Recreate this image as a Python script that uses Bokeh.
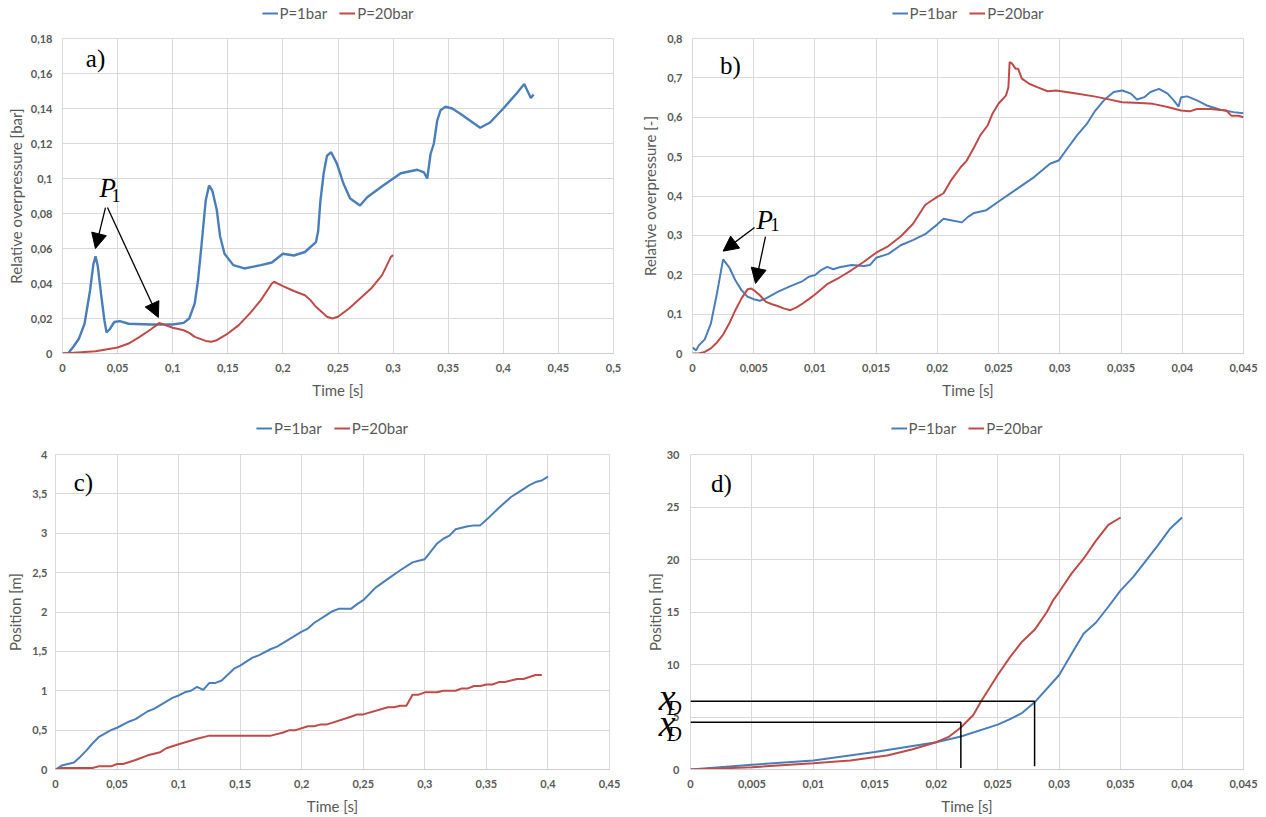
from bokeh.plotting import figure
from bokeh.models import (Range1d, FixedTicker, CustomJSTickFormatter, Legend, LegendItem,
                          Label, Arrow, NormalHead, LinearAxis)
from bokeh.layouts import row, column
from bokeh.embed import file_html
from bokeh.resources import INLINE

BLUE = "#4A7EBB"
RED = "#BE4B48"
GRID = "#d9d9d9"
TXT = "#595959"
SERIES = ["P=1bar", "P=20bar"]

# ---------------- panel a: overpressure [bar] vs time, long duct ----------------
A_T1 = [0, 0.005, 0.01, 0.015, 0.02, 0.025, 0.028, 0.03, 0.032, 0.035,
        0.038, 0.04, 0.043, 0.047, 0.052, 0.06, 0.08, 0.1, 0.11, 0.115,
        0.12, 0.123, 0.126, 0.13, 0.133, 0.136, 0.14, 0.143, 0.147, 0.155,
        0.165, 0.18, 0.19, 0.2, 0.21, 0.22, 0.23, 0.232, 0.234, 0.237,
        0.24, 0.2438, 0.249, 0.255, 0.261, 0.27, 0.2765, 0.291, 0.307, 0.322,
        0.328, 0.331, 0.334, 0.337, 0.34, 0.343, 0.3475, 0.3536, 0.361, 0.37,
        0.379, 0.388, 0.4, 0.4126, 0.419, 0.425, 0.4275]
A_P1 = [0, 0, 0.004, 0.0086, 0.017, 0.036, 0.051, 0.0556, 0.050, 0.034,
        0.019, 0.012, 0.014, 0.018, 0.0185, 0.017, 0.0166, 0.0166, 0.0175, 0.02,
        0.0286, 0.042, 0.061, 0.0876, 0.096, 0.093, 0.082, 0.067, 0.057, 0.0505,
        0.0486, 0.0505, 0.052, 0.057, 0.056, 0.058, 0.0636, 0.07, 0.087, 0.103,
        0.113, 0.115, 0.1085, 0.097, 0.0886, 0.0846, 0.0893, 0.096, 0.103, 0.105,
        0.1035, 0.100, 0.114, 0.12, 0.133, 0.139, 0.141, 0.140, 0.137, 0.133,
        0.129, 0.132, 0.140, 0.149, 0.154, 0.146, 0.148]
A_T20 = [0, 0.03, 0.05, 0.06, 0.07, 0.08, 0.088, 0.095, 0.1, 0.11,
         0.115, 0.12, 0.13, 0.135, 0.14, 0.15, 0.16, 0.17, 0.18, 0.19,
         0.192, 0.2, 0.21, 0.22, 0.225, 0.23, 0.24, 0.245, 0.25, 0.26,
         0.27, 0.28, 0.29, 0.298, 0.3]
A_P20 = [0, 0.0013, 0.0034, 0.0057, 0.0095, 0.0137, 0.0175, 0.0158, 0.0147, 0.0133,
         0.0118, 0.0095, 0.0072, 0.0067, 0.0076, 0.0114, 0.0162, 0.0229, 0.0305, 0.04,
         0.041, 0.0385, 0.0357, 0.0333, 0.0305, 0.0267, 0.021, 0.02, 0.021, 0.0257,
         0.0314, 0.0371, 0.0448, 0.0552, 0.0562]
A_XTICKS = [0, 0.05, 0.1, 0.15, 0.2, 0.25, 0.3, 0.35, 0.4, 0.45, 0.5]
A_YTICKS = [0, 0.02, 0.04, 0.06, 0.08, 0.1, 0.12, 0.14, 0.16, 0.18]

# ---------------- panel b: relative overpressure [-] ----------------
B_T1 = [0, 0.0003, 0.0005, 0.001, 0.0015, 0.002, 0.0025, 0.003, 0.0035, 0.004,
        0.0045, 0.005, 0.0055, 0.006, 0.007, 0.008, 0.009, 0.0095, 0.01, 0.0105,
        0.011, 0.0115, 0.012, 0.013, 0.014, 0.0145, 0.015, 0.016, 0.017, 0.018,
        0.019, 0.02, 0.0205, 0.021, 0.022, 0.0225, 0.023, 0.024, 0.025, 0.0265,
        0.0279, 0.0292, 0.0299, 0.0306, 0.0314, 0.0322, 0.0329, 0.0336, 0.0344, 0.0351,
        0.0358, 0.0363, 0.0369, 0.0374, 0.0381, 0.0388, 0.0393, 0.0397, 0.0399, 0.0404,
        0.0412, 0.042, 0.0431, 0.0442, 0.045]
B_P1 = [0.015, 0.008, 0.02, 0.036, 0.076, 0.153, 0.239, 0.219, 0.186, 0.161,
        0.144, 0.138, 0.134, 0.14, 0.157, 0.171, 0.184, 0.195, 0.199, 0.212,
        0.22, 0.214, 0.219, 0.225, 0.222, 0.225, 0.243, 0.253, 0.275, 0.288,
        0.303, 0.328, 0.342, 0.339, 0.333, 0.347, 0.357, 0.364, 0.386, 0.418,
        0.448, 0.482, 0.49, 0.52, 0.554, 0.583, 0.617, 0.643, 0.664, 0.668,
        0.66, 0.645, 0.651, 0.664, 0.672, 0.66, 0.643, 0.627, 0.651, 0.653,
        0.643, 0.63, 0.619, 0.613, 0.61]
B_T20 = [0, 0.0005, 0.001, 0.0015, 0.002, 0.0025, 0.003, 0.0035, 0.004, 0.0045,
         0.0048, 0.005, 0.0055, 0.006, 0.0065, 0.007, 0.0075, 0.008, 0.0085, 0.009,
         0.0095, 0.01, 0.011, 0.012, 0.013, 0.014, 0.015, 0.016, 0.017, 0.018,
         0.019, 0.0195, 0.02, 0.0205, 0.0211, 0.0219, 0.0224, 0.023, 0.0235, 0.0241,
         0.0245, 0.025, 0.0256, 0.0258, 0.0259, 0.0261, 0.0264, 0.0266, 0.0269, 0.0275,
         0.0282, 0.029, 0.0297, 0.0312, 0.0328, 0.0339, 0.0351, 0.0366, 0.0376, 0.0388,
         0.0399, 0.0406, 0.0412, 0.0423, 0.0436, 0.044, 0.0446, 0.045]
B_P20 = [0, 0, 0.004, 0.013, 0.028, 0.048, 0.076, 0.11, 0.14, 0.163,
         0.165, 0.161, 0.148, 0.131, 0.125, 0.12, 0.114, 0.11, 0.117, 0.127,
         0.138, 0.15, 0.176, 0.193, 0.212, 0.233, 0.256, 0.273, 0.297, 0.329,
         0.377, 0.388, 0.398, 0.407, 0.439, 0.473, 0.49, 0.524, 0.554, 0.579,
         0.609, 0.635, 0.655, 0.676, 0.74, 0.736, 0.723, 0.723, 0.698, 0.685,
         0.676, 0.666, 0.668, 0.661, 0.653, 0.646, 0.638, 0.636, 0.634, 0.626,
         0.617, 0.615, 0.621, 0.621, 0.617, 0.604, 0.604, 0.6]
B_XTICKS = [0, 0.005, 0.01, 0.015, 0.02, 0.025, 0.03, 0.035, 0.04, 0.045]
B_YTICKS = [0, 0.1, 0.2, 0.3, 0.4, 0.5, 0.6, 0.7, 0.8]

# ---------------- panel c: flame position, long duct ----------------
C_T1 = [0, 0.005, 0.015, 0.02, 0.025, 0.03, 0.035, 0.045, 0.05, 0.06,
        0.065, 0.075, 0.08, 0.095, 0.1, 0.105, 0.11, 0.115, 0.12, 0.125,
        0.13, 0.135, 0.145, 0.15, 0.16, 0.165, 0.175, 0.18, 0.2, 0.205,
        0.21, 0.22, 0.225, 0.23, 0.24, 0.245, 0.25, 0.26, 0.27, 0.28,
        0.29, 0.295, 0.3, 0.31, 0.315, 0.32, 0.325, 0.335, 0.34, 0.345,
        0.35, 0.36, 0.37, 0.375, 0.385, 0.39, 0.395, 0.4]
C_X1 = [0, 0.05, 0.09, 0.16, 0.24, 0.33, 0.41, 0.5, 0.53, 0.61,
        0.64, 0.74, 0.77, 0.91, 0.94, 0.98, 1.0, 1.05, 1.01, 1.1,
        1.1, 1.13, 1.28, 1.32, 1.42, 1.45, 1.53, 1.56, 1.75, 1.79,
        1.86, 1.96, 2.01, 2.04, 2.04, 2.1, 2.15, 2.31, 2.42, 2.53,
        2.63, 2.65, 2.67, 2.87, 2.93, 2.97, 3.05, 3.09, 3.1, 3.1,
        3.17, 3.32, 3.46, 3.51, 3.61, 3.65, 3.67, 3.72]
C_T20 = [0, 0.005, 0.03, 0.035, 0.045, 0.05, 0.055, 0.065, 0.075, 0.085,
         0.09, 0.1, 0.115, 0.125, 0.175, 0.185, 0.19, 0.195, 0.205, 0.21,
         0.215, 0.22, 0.24, 0.245, 0.25, 0.27, 0.275, 0.28, 0.285, 0.29,
         0.295, 0.3, 0.31, 0.315, 0.325, 0.33, 0.335, 0.34, 0.345, 0.35,
         0.355, 0.36, 0.365, 0.375, 0.38, 0.39, 0.395]
C_X20 = [0, 0.02, 0.02, 0.04, 0.04, 0.07, 0.07, 0.12, 0.18, 0.22,
         0.27, 0.32, 0.39, 0.43, 0.43, 0.47, 0.5, 0.5, 0.55, 0.55,
         0.57, 0.57, 0.67, 0.7, 0.7, 0.79, 0.79, 0.81, 0.81, 0.95,
         0.95, 0.98, 0.98, 1.0, 1.0, 1.03, 1.03, 1.06, 1.06, 1.08,
         1.08, 1.11, 1.11, 1.15, 1.15, 1.2, 1.2]
C_XTICKS = [0, 0.05, 0.1, 0.15, 0.2, 0.25, 0.3, 0.35, 0.4, 0.45]
C_YTICKS = [0, 0.5, 1, 1.5, 2, 2.5, 3, 3.5, 4]

# ---------------- panel d: flame position, short duct ----------------
D_T1 = [0, 0.005, 0.01, 0.015, 0.02, 0.022, 0.025, 0.026, 0.027, 0.028,
        0.03, 0.031, 0.032, 0.033, 0.034, 0.035, 0.036, 0.037, 0.038, 0.039, 0.04]
D_X1 = [0, 0.45, 0.86, 1.66, 2.6, 3.15, 4.27, 4.8, 5.4, 6.4,
        9.0, 11.0, 12.96, 14.0, 15.5, 17.06, 18.3, 19.8, 21.3, 22.9, 24.0]
D_T20 = [0, 0.005, 0.01, 0.013, 0.016, 0.018, 0.02, 0.021, 0.022, 0.023,
         0.0237, 0.025, 0.026, 0.027, 0.028, 0.029, 0.0295, 0.03, 0.031, 0.032,
         0.033, 0.034, 0.035]
D_X20 = [0, 0.22, 0.6, 0.86, 1.34, 1.9, 2.6, 3.1, 4.0, 5.16,
         6.6, 9.0, 10.7, 12.2, 13.3, 15.0, 16.1, 16.9, 18.65, 20.1,
         21.8, 23.3, 24.0]
D_XTICKS = [0, 0.005, 0.01, 0.015, 0.02, 0.025, 0.03, 0.035, 0.04, 0.045]
D_YTICKS = [0, 5, 10, 15, 20, 25, 30]
# detonation onset markers (time, position) for P=20bar and P=1bar
XD_T = [0.022, 0.028]
XD_POS = [4.5, 6.5]
XD_FOOT = [0.15, 0.3]
# where the "x" and subscript "D" of the two x_D labels sit on the position axis
XD_X_AT = [4.45, 6.95]
XD_SUB_AT = [3.35, 5.85]

FMT = CustomJSTickFormatter(code="return Number(tick.toFixed(6)).toString().replace('.', ',');")


def style_axis(ax, ticks):
    ax.ticker = FixedTicker(ticks=ticks)
    ax.formatter = FMT
    ax.major_tick_out = 0
    ax.major_tick_in = 0
    ax.major_tick_line_color = None
    ax.minor_tick_line_color = None
    ax.major_label_text_font = "Lato"
    ax.major_label_text_font_style = "bold"
    ax.major_label_text_font_size = "11px"
    ax.major_label_text_color = TXT
    ax.axis_label_text_font = "Lato"
    ax.axis_label_text_font_style = "normal"
    ax.axis_label_text_font_size = "15px"
    ax.axis_label_text_color = TXT


def make_panel(h, xr, yr, xt, yt, ytitle, bl, br, bt, bb, ystand, tstand):
    p = figure(width=633, height=h, x_range=Range1d(*xr), y_range=Range1d(*yr),
               output_backend="svg", toolbar_location=None,
               min_border_left=bl, min_border_right=br, min_border_top=bt, min_border_bottom=bb)
    p.outline_line_color = GRID
    p.background_fill_color = "white"
    style_axis(p.xaxis[0], xt)
    style_axis(p.yaxis[0], yt)
    p.xaxis[0].axis_line_color = "#cccccc"
    p.yaxis[0].axis_line_color = None
    p.xaxis[0].axis_label = "Time [s]"
    p.yaxis[0].axis_label = ytitle
    p.xaxis[0].major_label_standoff = 10
    p.xaxis[0].axis_label_standoff = 6
    p.yaxis[0].major_label_standoff = ystand
    p.yaxis[0].axis_label_standoff = tstand
    p.xgrid.grid_line_color = GRID
    p.ygrid.grid_line_color = GRID
    return p


def legend_strip(h, loc, t1, v1, t20, v20):
    # legend band above a panel (Excel places it centred over the chart area);
    # its ranges lie away from the data so only the legend swatches show
    f = figure(width=633, height=h, x_range=Range1d(-2, -1), y_range=Range1d(-2, -1),
               output_backend="svg", toolbar_location=None,
               x_axis_type=None, y_axis_type=None, min_border=0)
    f.outline_line_color = None
    r1 = f.line(t1, v1, line_color=BLUE, line_width=2)
    r2 = f.line(t20, v20, line_color=RED, line_width=2)
    leg = Legend(items=[LegendItem(label=SERIES[0], renderers=[r1]),
                        LegendItem(label=SERIES[1], renderers=[r2])],
                 location=loc, orientation="horizontal",
                 glyph_width=16, glyph_height=20, label_height=20, label_standoff=2,
                 spacing=12, padding=0, margin=0,
                 label_text_font="Lato", label_text_font_size="15px", label_text_color=TXT,
                 border_line_alpha=0, background_fill_alpha=0)
    f.add_layout(leg)
    return f


def add_series(p, t1, v1, t20, v20, w1=2.0):
    p.line(t1, v1, line_color=BLUE, line_width=w1)
    p.line(t20, v20, line_color=RED, line_width=2.0)


def serif(p, x, y, text, size, style="normal", align="left", baseline="alphabetic"):
    p.add_layout(Label(x=x, y=y, text=text, text_font="Liberation Serif",
                       text_font_size=size, text_font_style=style, text_color="black",
                       text_align=align, text_baseline=baseline))


def arrow(p, xs, ys, xe, ye):
    p.add_layout(Arrow(end=NormalHead(size=15, fill_color="black", line_color="black"),
                       x_start=xs, y_start=ys, x_end=xe, y_end=ye,
                       line_color="black", line_width=1.3))


# panel a
pa = make_panel(382, (0, 0.5), (0, 0.18), A_XTICKS, A_YTICKS,
                "Relative overpressure [bar]", 62, 20, 12, 55, 10, 3)
add_series(pa, A_T1, A_P1, A_T20, A_P20, w1=2.4)
serif(pa, 0.030, 0.1686, "a)", "25px", align="center", baseline="middle")
serif(pa, 0.0336, 0.0943, "P", "27px", style="italic")
serif(pa, 0.0444, 0.0905, "1", "18px")
arrow(pa, 0.039, 0.0834, 0.0299, 0.0600)
arrow(pa, 0.0408, 0.0834, 0.087, 0.0206)
la = legend_strip(26, "center", A_T1, A_P1, A_T20, A_P20)

# panel b
pb = make_panel(382, (0, 0.045), (0, 0.8), B_XTICKS, B_YTICKS,
                "Relative overpressure [-]", 59, 23, 12, 55, 10, 5)
add_series(pb, B_T1, B_P1, B_T20, B_P20)
serif(pb, 0.0031, 0.731, "b)", "25px", align="center", baseline="middle")
serif(pb, 0.00523, 0.340, "P", "27px", style="italic")
serif(pb, 0.00637, 0.328, "1", "18px")
arrow(pb, 0.00507, 0.320, 0.0025, 0.260)
arrow(pb, 0.00596, 0.297, 0.00515, 0.178)
lb = legend_strip(26, "center", B_T1, B_P1, B_T20, B_P20)

# panel c
pc = make_panel(379, (0, 0.45), (0, 4), C_XTICKS, C_YTICKS,
                "Position [m]", 55, 24, 16, 48, 8, 5)
add_series(pc, C_T1, C_X1, C_T20, C_X20)
serif(pc, 0.0227, 3.645, "c)", "25px", align="center", baseline="middle")
lc = legend_strip(30, "bottom_center", C_T1, C_X1, C_T20, C_X20)

# panel d
pd_ = make_panel(379, (0, 0.045), (0, 30), D_XTICKS, D_YTICKS,
                 None, 57, 23, 16, 48, 11, 5)
add_series(pd_, D_T1, D_X1, D_T20, D_X20)
serif(pd_, 0.00252, 27.2, "d)", "25px", align="center", baseline="middle")
for t, x, foot in zip(XD_T, XD_POS, XD_FOOT):
    pd_.line([0, t, t], [x, x, foot], line_color="black", line_width=1.5)
# x_D labels left of the frame: extra tick-label axes (base "x", subscript "D")
for ticks, txt, size, stand, title in ((XD_X_AT, "x", "38px", -12, None),
                                       (XD_SUB_AT, "D", "20px", -26, "Position [m]")):
    ax = LinearAxis(ticker=FixedTicker(ticks=ticks),
                    formatter=CustomJSTickFormatter(code="return '%s';" % txt),
                    major_label_standoff=stand, major_tick_out=0, major_tick_in=0,
                    axis_line_color=None, major_tick_line_color=None, minor_tick_line_color=None,
                    major_label_text_font="Liberation Serif", major_label_text_font_style="italic",
                    major_label_text_font_size=size, major_label_text_color="black")
    if title:
        ax.axis_label = title
        ax.axis_label_text_font = "Lato"
        ax.axis_label_text_font_style = "normal"
        ax.axis_label_text_font_size = "15px"
        ax.axis_label_text_color = TXT
        ax.axis_label_standoff = 0
    pd_.add_layout(ax, "left")
ld = legend_strip(30, "bottom_center", D_T1, D_X1, D_T20, D_X20)

layout = column(row(column(la, pa), column(lb, pb)),
                row(column(lc, pc), column(ld, pd_)))
open("out.html", "w").write(file_html(layout, INLINE))
